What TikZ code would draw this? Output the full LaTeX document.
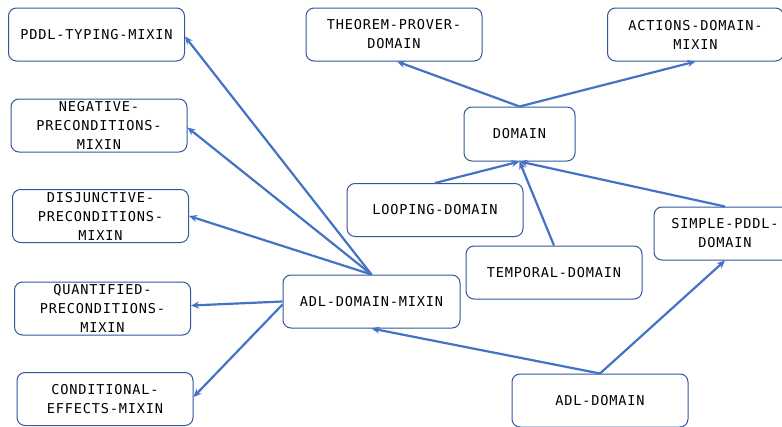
\documentclass[tikz,border=0pt]{standalone}
\usepackage{fontspec}
\newfontfamily\boxfont[LetterSpace=6]{DejaVu Sans Mono}
\usetikzlibrary{arrows.meta}
\definecolor{edgeblue}{HTML}{4472C4}
\definecolor{frameblue}{HTML}{34569A}
\tikzset{
  cls/.style={draw=frameblue, line width=1pt, rounded corners=8pt, fill=white,
    minimum width=176pt, minimum height=53pt, align=center, inner sep=2pt,
    font=\boxfont\fontsize{13.6}{19}\selectfont, text=black},
  inherit/.style={draw=edgeblue, line width=2.2pt, -{Stealth[length=8pt,width=7pt]}}
}
\begin{document}
\begin{tikzpicture}[x=1pt,y=-1pt]
\useasboundingbox (0,0) rectangle (782,426);
\clip (0,0) rectangle (782,426);
% mixins on the left
\node[cls] (typing) at (96.5,34.5) {PDDL-TYPING-MIXIN};
\node[cls] (negative) at (99,125.5) {NEGATIVE-\\PRECONDITIONS-\\MIXIN};
\node[cls] (disjunctive) at (100.5,216) {DISJUNCTIVE-\\PRECONDITIONS-\\MIXIN};
\node[cls] (quantified) at (102.5,308.5) {QUANTIFIED-\\PRECONDITIONS-\\MIXIN};
\node[cls] (conditional) at (105,399) {CONDITIONAL-\\EFFECTS-MIXIN};
% domain hierarchy
\node[cls] (prover) at (394,34.5) {THEOREM-PROVER-\\DOMAIN};
\node[cls] (actions) at (695.5,34.5) {ACTIONS-DOMAIN-\\MIXIN};
\node[cls, minimum width=111pt, minimum height=54pt] (domain) at (519.5,134) {DOMAIN};
\node[cls] (looping) at (435,210) {LOOPING-DOMAIN};
\node[cls] (temporal) at (554,272.5) {TEMPORAL-DOMAIN};
\node[cls, minimum width=142pt] (simple) at (725,233.5) {SIMPLE-PDDL-\\DOMAIN};
\node[cls, minimum width=177pt] (adlmixin) at (371.5,301.5) {ADL-DOMAIN-MIXIN};
\node[cls] (adl) at (600,400.5) {ADL-DOMAIN};
% inheritance links
\draw[inherit] (adlmixin.north) -- ([yshift=-2pt]typing.east);
\draw[inherit] (adlmixin.north) -- ([yshift=-2pt]negative.east);
\draw[inherit] (adlmixin.north) -- (disjunctive.east);
\draw[inherit] (adlmixin.west) -- ([yshift=3pt]quantified.east);
\draw[inherit] ([yshift=-3pt]adlmixin.west) -- ([yshift=2pt]conditional.east);
\draw[inherit] (adl.north) -- (adlmixin.south);
\draw[inherit] (adl.north) -- (simple.south);
\draw[inherit] (simple.north) -- (domain.south);
\draw[inherit] (temporal.north) -- (domain.south);
\draw[inherit] (looping.north) -- (domain.south);
\draw[inherit] (domain.north) -- ([xshift=3pt]prover.south);
\draw[inherit] (domain.north) -- (actions.south);
\end{tikzpicture}
\end{document}
